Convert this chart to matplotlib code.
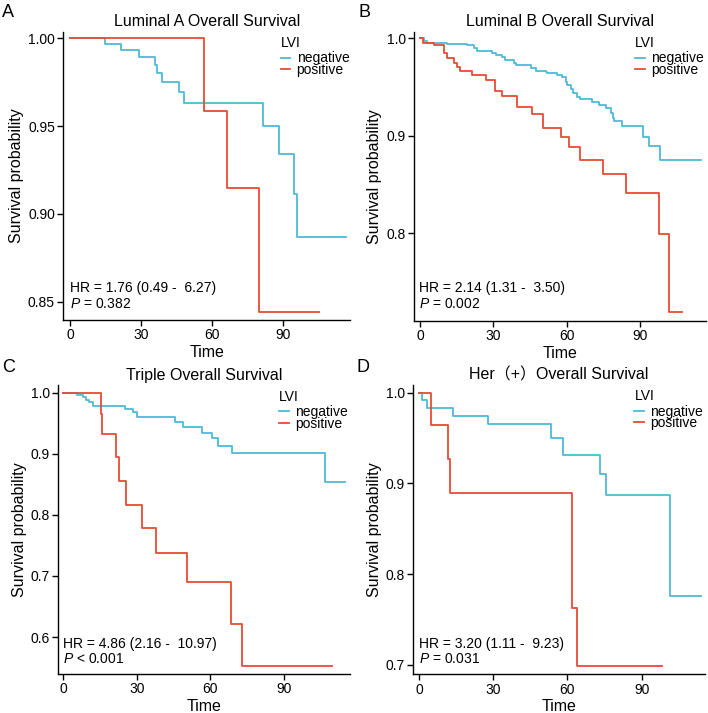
import numpy as np
import matplotlib
matplotlib.use('Agg')
import matplotlib.pyplot as plt

plt.rcParams['font.family'] = ['Liberation Sans', 'Noto Sans CJK SC', 'DejaVu Sans']
plt.rcParams['mathtext.fontset'] = 'custom'
plt.rcParams['mathtext.it'] = 'Liberation Sans:italic'
plt.rcParams['mathtext.rm'] = 'Liberation Sans'

# Kaplan-Meier step values (time, survival)
lumA_neg_time = [0, 14.8, 21.4, 29.1, 35.9, 36.6, 39.0, 46.1, 48.2, 81.3, 88.2, 94.5, 95.6, 116.3]
lumA_neg_surv = [1.0, 0.9968, 0.9933, 0.9892, 0.9848, 0.9800, 0.9749, 0.9694, 0.9633, 0.9500, 0.9340, 0.9113, 0.8866, 0.8866]
lumA_pos_time = [0, 56.7, 66.1, 79.7, 105.2]
lumA_pos_surv = [1.0, 0.9586, 0.9149, 0.8443, 0.8443]

lumB_neg_time = [0, 1.5, 3.0, 11.2, 19.4, 22.1, 23.5, 29.6, 31.0, 33.7, 35.0, 38.5, 39.1, 45.3, 47.3, 51.4, 52.1, 56.2,
                 58.2, 59.6, 60.3, 61.6, 62.7, 64.4, 65.4, 70.5, 73.2, 76.0, 78.3, 79.0, 79.4, 82.8, 91.4, 93.7, 98.2, 114.8]
lumB_neg_surv = [1.0, 0.9973, 0.9956, 0.9942, 0.9928, 0.9897, 0.9870, 0.9846, 0.9829, 0.9805, 0.9778, 0.9750, 0.9726,
                 0.9692, 0.9668, 0.9651, 0.9641, 0.9623, 0.9599, 0.9555, 0.9521, 0.9476, 0.9435, 0.9401, 0.9373, 0.9349,
                 0.9315, 0.9281, 0.9236, 0.9178, 0.9154, 0.9099, 0.8990, 0.8894, 0.8750, 0.8750]
lumB_pos_time = [0, 1.4, 5.7, 9.8, 11.2, 13.9, 15.3, 16.4, 21.4, 26.9, 30.9, 33.7, 39.8, 45.9, 50.5, 57.9, 60.9, 65.5,
                 75.0, 84.4, 97.8, 101.9, 107.3]
lumB_pos_surv = [1.0, 0.9955, 0.9932, 0.9846, 0.9794, 0.9743, 0.9709, 0.9668, 0.9623, 0.9572, 0.9459, 0.9408, 0.9291,
                 0.9219, 0.9075, 0.8990, 0.8880, 0.8750, 0.8603, 0.8408, 0.7990, 0.7192, 0.7192]

tri_neg_time = [0, 5.4, 8.2, 9.3, 10.6, 12.2, 25.2, 28.3, 30.2, 45.6, 49.0, 56.5, 60.5, 63.3, 68.7, 106.8, 115.0]
tri_neg_surv = [1.0, 0.9962, 0.9924, 0.9880, 0.9842, 0.9787, 0.9733, 0.9689, 0.9596, 0.9514, 0.9444, 0.9345, 0.9253,
                0.9127, 0.9007, 0.8535, 0.8535]
tri_pos_time = [0, 15.2, 15.9, 21.5, 22.9, 25.4, 32.2, 37.8, 50.5, 68.4, 73.1, 109.5]
tri_pos_surv = [1.0, 0.9645, 0.9318, 0.8942, 0.8554, 0.8161, 0.7780, 0.7370, 0.6901, 0.6214, 0.5527, 0.5527]

her_neg_time = [0, 1.35, 3.1, 13.9, 27.9, 53.5, 58.2, 73.2, 75.5, 101.5, 113.9]
her_neg_surv = [1.0, 0.9919, 0.9827, 0.9747, 0.9651, 0.9497, 0.9313, 0.9100, 0.8873, 0.7760, 0.7760]
her_pos_time = [0, 4.7, 11.7, 12.5, 61.7, 64.0, 98.4]
her_pos_surv = [1.0, 0.9644, 0.9269, 0.8898, 0.7631, 0.6989, 0.6989]

titles = ['Luminal A Overall Survival', 'Luminal B Overall Survival',
          'Triple Overall Survival', 'Her（+）Overall Survival']
letters = ['A', 'B', 'C', 'D']
hr_text = ['HR = 1.76 (0.49 -  6.27)', 'HR = 2.14 (1.31 -  3.50)',
           'HR = 4.86 (2.16 -  10.97)', 'HR = 3.20 (1.11 -  9.23)']
p_text = ['$\\it{P}$ = 0.382', '$\\it{P}$ = 0.002', '$\\it{P}$ < 0.001', '$\\it{P}$ = 0.031']
yticks = [[0.85, 0.90, 0.95, 1.00], [0.8, 0.9, 1.0], [0.6, 0.7, 0.8, 0.9, 1.0], [0.7, 0.8, 0.9, 1.0]]
yfmt = ['%.2f', '%.1f', '%.1f', '%.1f']
xticks = [0, 30, 60, 90]

neg_color = '#4DBBD5'
pos_color = '#E64B35'

panels = [
    (lumA_neg_time, lumA_neg_surv, lumA_pos_time, lumA_pos_surv),
    (lumB_neg_time, lumB_neg_surv, lumB_pos_time, lumB_pos_surv),
    (tri_neg_time, tri_neg_surv, tri_pos_time, tri_pos_surv),
    (her_neg_time, her_neg_surv, her_pos_time, her_pos_surv),
]

# axes boxes in figure fraction, plus axis limits
boxes = [[0.0894, 0.5512, 0.405, 0.4043], [0.5847, 0.5502, 0.412, 0.4053],
         [0.0823, 0.0551, 0.412, 0.4045], [0.5838, 0.0543, 0.412, 0.4058]]
xlims = [(-2.8, 118.1), (-2.45, 116.9), (-2.05, 117.0), (-2.3, 115.6)]
ylims = [(0.8395, 1.0038), (0.7099, 1.0068), (0.540, 1.012), (0.6897, 1.0085)]
hr_pos = [(0.023, 0.11, 0.0565), (0.017, 0.1125, 0.058), (0.017, 0.1042, 0.0502), (0.0195, 0.1061, 0.0522)]
letter_pos = [(0.003, 0.995), (0.507, 0.995), (0.003, 0.497), (0.503, 0.497)]

fig = plt.figure(figsize=(7.08, 7.13), dpi=100)

for i in range(4):
    ax = fig.add_axes(boxes[i])
    nt, ns, pt, ps = panels[i]
    ax.step(nt, ns, where='post', color=neg_color, lw=1.3, label='negative')
    ax.step(pt, ps, where='post', color=pos_color, lw=1.3, label='positive')

    ax.set_xlim(xlims[i])
    ax.set_ylim(ylims[i])
    ax.set_xticks(xticks)
    ax.set_yticks(yticks[i])
    ax.set_yticklabels([yfmt[i] % v for v in yticks[i]])
    for s in ['top', 'right']:
        ax.spines[s].set_visible(False)
    for s in ['left', 'bottom']:
        ax.spines[s].set_linewidth(1.0)
    ax.tick_params(labelsize=10, length=4, width=1.0, pad=2, colors='black')
    ax.set_xlabel('Time', fontsize=11.5, labelpad=2)
    ax.set_ylabel('Survival probability', fontsize=11.5, labelpad=3)
    ax.set_title(titles[i], fontsize=11.5, pad=4)

    leg = ax.legend(title='LVI', loc='upper left', bbox_to_anchor=(0.758, 0.985), frameon=False,
                    fontsize=10, title_fontsize=10, handlelength=0.7, handletextpad=0.45,
                    labelspacing=-0.18, borderpad=0, borderaxespad=0, alignment='left')
    # a bit more room between the legend title and the entries
    leg._legend_box.sep = 1

    hx, hy, py = hr_pos[i]
    ax.text(hx, hy, hr_text[i], transform=ax.transAxes, fontsize=10, va='center')
    ax.text(hx, py, p_text[i], transform=ax.transAxes, fontsize=10, va='center')

    fig.text(letter_pos[i][0], letter_pos[i][1], letters[i], fontsize=13, va='top')

plt.savefig('out.png', dpi=100)
